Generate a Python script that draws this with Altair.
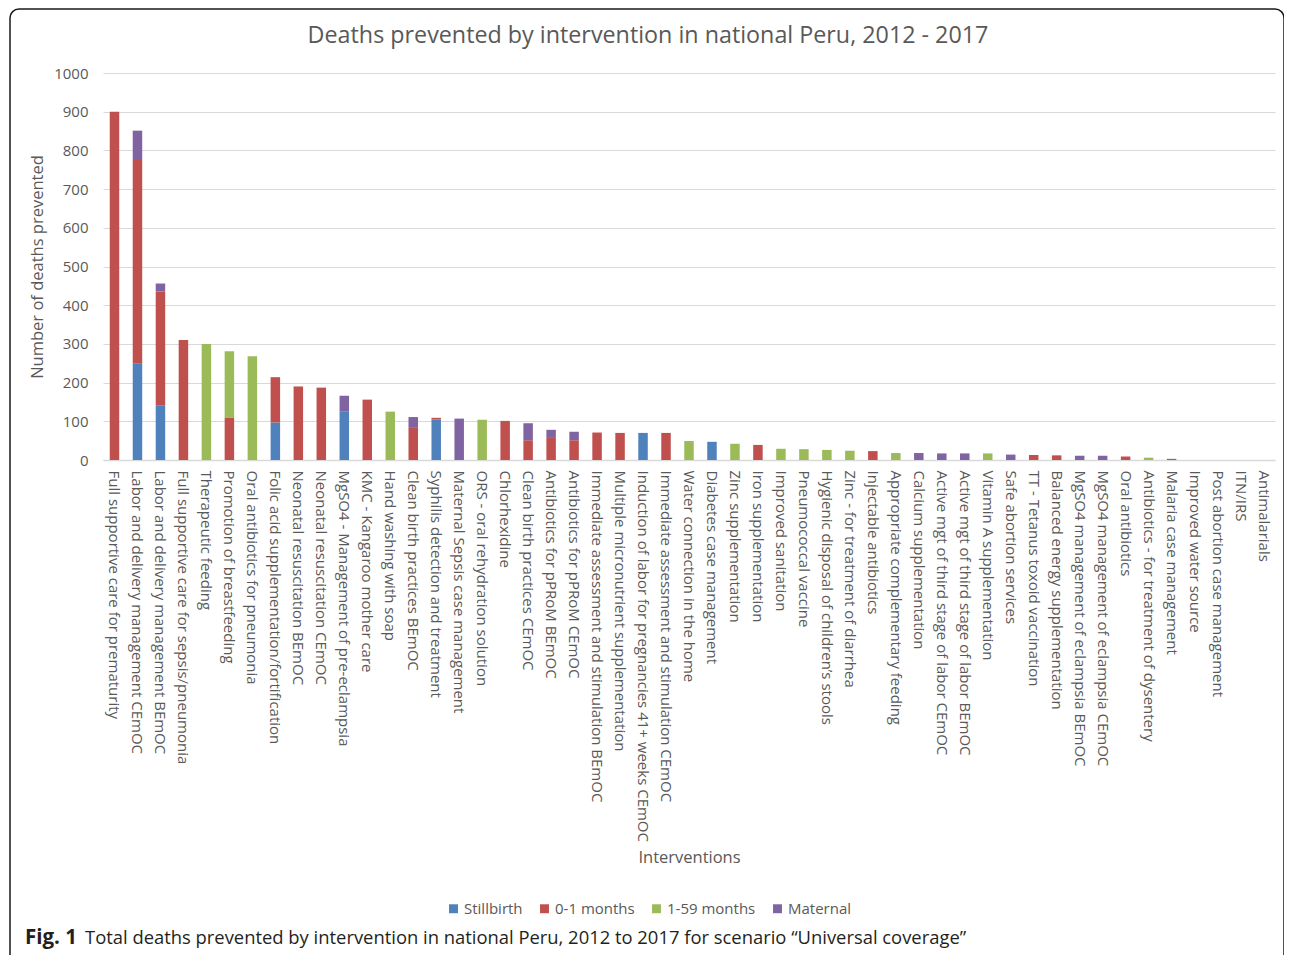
import altair as alt
import pandas as pd

cats = [
    "Full supportive care for prematurity",
    "Labor and delivery management CEmOC",
    "Labor and delivery management BEmOC",
    "Full supportive care for sepsis/pneumonia",
    "Therapeutic feeding",
    "Promotion of breastfeeding",
    "Oral antibiotics for pneumonia",
    "Folic acid supplementation/fortification",
    "Neonatal resuscitation BEmOC",
    "Neonatal resuscitation CEmOC",
    "MgSO4 - Management of pre-eclampsia",
    "KMC - Kangaroo mother care",
    "Hand washing with soap",
    "Clean birth practices BEmOC",
    "Syphilis detection and treatment",
    "Maternal Sepsis case management",
    "ORS - oral rehydration solution",
    "Chlorhexidine",
    "Clean birth practices CEmOC",
    "Antibiotics for pPRoM BEmOC",
    "Antibiotics for pPRoM CEmOC",
    "Immediate assessment and stimulation BEmOC",
    "Multiple micronutrient supplementation",
    "Induction of labor for pregnancies 41+ weeks CEmOC",
    "Immediate assessment and stimulation CEmOC",
    "Water connection in the home",
    "Diabetes case management",
    "Zinc supplementation",
    "Iron supplementation",
    "Improved sanitation",
    "Pneumococcal vaccine",
    "Hygienic disposal of children\u2019s stools",
    "Zinc - for treatment of diarrhea",
    "Injectable antibiotics",
    "Appropriate complementary feeding",
    "Calcium supplementation",
    "Active mgt of third stage of labor CEmOC",
    "Active mgt of third stage of labor BEmOC",
    "Vitamin A supplementation",
    "Safe abortion services",
    "TT - Tetanus toxoid vaccination",
    "Balanced energy supplementation",
    "MgSO4 management of eclampsia BEmOC",
    "MgSO4 management of eclampsia CEmOC",
    "Oral antibiotics",
    "Antibiotics - for treatment of dysentery",
    "Malaria case management",
    "Improved water source",
    "Post abortion case management",
    "ITN/IRS",
    "Antimalarials",
]

stillbirth = [0, 249, 140, 0, 0, 0, 0, 97, 0, 0, 126, 0, 0, 0, 105, 0, 0, 0, 0, 0,
              0, 0, 0, 70, 0, 0, 47, 0, 0, 0, 0, 0, 0, 0, 0, 0, 0, 0, 0, 0,
              0, 0, 0, 0, 0, 0, 0, 0, 0, 0, 0]
neonatal = [900, 526, 295, 310, 0, 110, 0, 117, 190, 187, 0, 156, 0, 83, 4, 0, 0, 101, 51, 57,
            51, 71, 70, 0, 70, 0, 0, 0, 39, 0, 0, 0, 0, 23, 0, 0, 0, 0, 0, 0,
            13, 12, 0, 0, 9, 0, 0, 0, 0, 0, 0]
child = [0, 0, 0, 0, 300, 171, 268, 0, 0, 0, 0, 0, 125, 0, 0, 0, 104, 0, 0, 0,
         0, 0, 0, 0, 0, 49, 0, 42, 0, 29, 28, 26, 24, 0, 18, 0, 0, 0, 17, 0,
         0, 0, 0, 0, 0, 6, 0, 0, 0, 0, 0]
maternal = [0, 76, 21, 0, 0, 0, 0, 0, 0, 0, 40, 0, 0, 28, 0, 107, 0, 0, 44, 21,
            22, 0, 0, 0, 0, 0, 0, 0, 0, 0, 0, 0, 0, 0, 0, 18, 17, 17, 0, 14,
            0, 0, 11, 11, 0, 0, 3, 0, 0, 0, 0]

groups = ["Stillbirth", "0-1 months", "1-59 months", "Maternal"]
colors = ["#4F81BD", "#C0504D", "#9BBB59", "#8064A2"]
y_ticks = list(range(0, 1001, 100))

title_text = "Deaths prevented by intervention in national Peru, 2012 - 2017"
caption_bold = "Fig. 1"
caption_rest = "Total deaths prevented by intervention in national Peru, 2012 to 2017 for scenario \u201cUniversal coverage\u201d"

rows = []
for k, (g, vals) in enumerate(zip(groups, [stillbirth, neonatal, child, maternal])):
    for c, v in zip(cats, vals):
        if v > 0:
            rows.append({"Intervention": c, "Group": g, "Deaths": v, "k": k})
df = pd.DataFrame(rows)
one = pd.DataFrame({"a": [0]})

FONT = "Open Sans"
GREY = "#595959"

bars = alt.Chart(df).mark_bar().encode(
    x=alt.X(
        "Intervention:N",
        sort=cats,
        scale=alt.Scale(domain=cats, paddingInner=0.587, paddingOuter=0.2935),
        axis=alt.Axis(
            title="Interventions",
            labelAngle=90,
            labelLimit=600,
            labelOverlap=False,
            labelPadding=10,
            labelFontSize=15,
            ticks=False,
            domainColor="#D9D9D9",
            domainWidth=1.5,
            titleY=397,
            titleBaseline="middle",
        ),
    ),
    y=alt.Y(
        "Deaths:Q",
        stack="zero",
        scale=alt.Scale(domain=[0, 1000], nice=False),
        axis=alt.Axis(
            values=y_ticks,
            format="d",
            title="Number of deaths prevented",
            ticks=False,
            domain=False,
            labelPadding=15,
            labelFontSize=15,
            gridColor="#D9D9D9",
            titlePadding=8,
        ),
    ),
    color=alt.Color(
        "Group:N",
        scale=alt.Scale(domain=groups, range=colors),
        legend=alt.Legend(
            title=None,
            orient="none",
            legendX=343,
            legendY=828,
            direction="horizontal",
            symbolType="square",
            symbolSize=80,
            symbolStrokeWidth=0,
            labelFontSize=15,
            labelColor=GREY,
            labelFont=FONT,
            columnPadding=14,
            labelOffset=3,
        ),
    ),
    order=alt.Order("k:Q", sort="ascending"),
)

frame = alt.Chart(one).mark_rect(
    fill=None, stroke="#1a1a1a", strokeWidth=1.5, cornerRadius=9
).encode(
    x=alt.value(-93), x2=alt.value(1181), y=alt.value(-64), y2=alt.value(1000)
)

title = alt.Chart(one).mark_text(
    text=title_text, font=FONT, fontSize=23.3, align="center",
    baseline="middle", color=GREY
).encode(x=alt.value(545), y=alt.value(-37))

cap1 = alt.Chart(one).mark_text(
    text=caption_bold, font=FONT, fontSize=20.5, fontWeight="bold",
    align="left", baseline="alphabetic", color="#231F20"
).encode(x=alt.value(-78), y=alt.value(871))

cap2 = alt.Chart(one).mark_text(
    text=caption_rest, font=FONT, fontSize=18.4,
    align="left", baseline="alphabetic", color="#231F20"
).encode(x=alt.value(-18), y=alt.value(871))

chart = alt.layer(frame, bars, title, cap1, cap2).properties(
    width=1172,
    height=387,
    autosize=alt.AutoSizeParams(type="none"),
    padding={"left": 95, "top": 65, "right": 9, "bottom": 495},
).configure_view(stroke=None).configure_axis(
    labelFont=FONT, titleFont=FONT, labelColor=GREY, titleColor=GREY,
    titleFontSize=16.5, titleFontWeight="normal",
)

chart.save("out.html", embed_options={"renderer": "svg", "actions": False})
